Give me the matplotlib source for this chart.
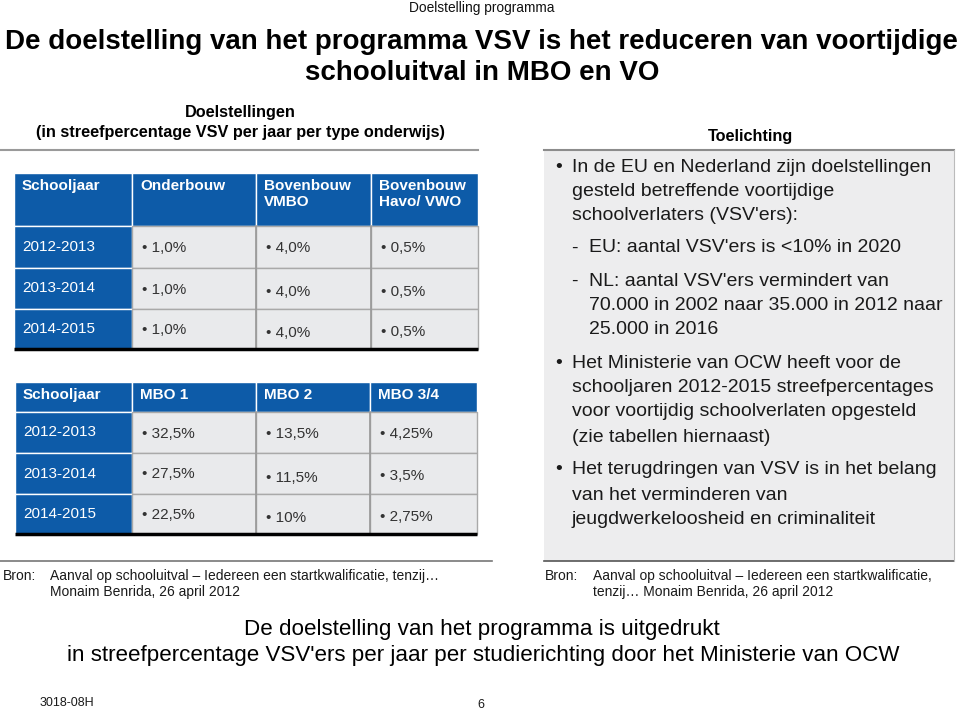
import matplotlib
matplotlib.use("Agg")
import matplotlib.pyplot as plt
from matplotlib import font_manager as fm
from matplotlib.patches import Rectangle

# ---------------- data ----------------
years = ["2012-2013", "2013-2014", "2014-2015"]
vo_headers = ["Schooljaar", "Onderbouw", "Bovenbouw\nVMBO", "Bovenbouw\nHavo/ VWO"]
vo_onderbouw = ["1,0%", "1,0%", "1,0%"]
vo_bovenbouw_vmbo = ["4,0%", "4,0%", "4,0%"]
vo_bovenbouw_havo_vwo = ["0,5%", "0,5%", "0,5%"]
mbo_headers = ["Schooljaar", "MBO 1", "MBO 2", "MBO 3/4"]
mbo_1 = ["32,5%", "27,5%", "22,5%"]
mbo_2 = ["13,5%", "11,5%", "10%"]
mbo_34 = ["4,25%", "3,5%", "2,75%"]

top_label = "Doelstelling programma"
title_lines = ["De doelstelling van het programma VSV is het reduceren van voortijdige",
               "schooluitval in MBO en VO"]
left_heading = ["Doelstellingen", "(in streefpercentage VSV per jaar per type onderwijs)"]
right_heading = "Toelichting"
bottom_lines = ["De doelstelling van het programma is uitgedrukt",
                "in streefpercentage VSV'ers per jaar per studierichting door het Ministerie van OCW"]
source_left = ["Aanval op schooluitval \u2013 Iedereen een startkwalificatie, tenzij\u2026",
               "Monaim Benrida, 26 april 2012"]
source_right = ["Aanval op schooluitval \u2013 Iedereen een startkwalificatie,",
                "tenzij\u2026 Monaim Benrida, 26 april 2012"]
# (kind, text): 'b' bullet start, 'c' bullet continuation, 'd' dash start, 'dc' dash continuation
notes = [
    ("b", "In de EU en Nederland zijn doelstellingen"),
    ("c", "gesteld betreffende voortijdige"),
    ("c", "schoolverlaters (VSV'ers):"),
    ("d", "EU: aantal VSV'ers is <10% in 2020"),
    ("d", "NL: aantal VSV'ers vermindert van"),
    ("dc", "70.000 in 2002 naar 35.000 in 2012 naar"),
    ("dc", "25.000 in 2016"),
    ("b", "Het Ministerie van OCW heeft voor de"),
    ("c", "schooljaren 2012-2015 streefpercentages"),
    ("c", "voor voortijdig schoolverlaten opgesteld"),
    ("c", "(zie tabellen hiernaast)"),
    ("b", "Het terugdringen van VSV is in het belang"),
    ("c", "van het verminderen van"),
    ("c", "jeugdwerkeloosheid en criminaliteit"),
]
note_y = [168, 192, 216, 248, 281, 305, 330, 363, 387, 412, 437, 470, 495, 520]

# ---------------- style ----------------
names = {f.name for f in fm.fontManager.ttflist}
REG = "Liberation Sans" if "Liberation Sans" in names else "DejaVu Sans"
BLUE = "#0D5BA8"
GRAY_CELL = "#E9EAEC"
GRAY_BOX = "#EDEDEE"
TXT = "#1A1A1A"

W, H = 960, 711
fig = plt.figure(figsize=(W / 100, H / 100), dpi=100)
ax = fig.add_axes([0, 0, 1, 1])
ax.set_xlim(0, W)
ax.set_ylim(H, 0)
ax.axis("off")
renderer = fig.canvas.get_renderer()


def fit_size(s, width, weight="normal"):
    t = ax.text(0, 0, s, fontsize=20, family=REG, weight=weight)
    bb = t.get_window_extent(renderer)
    t.remove()
    return 20 * width / bb.width


def txt(x, y, s, size, weight="normal", ha="left", va="center", color=TXT, **kw):
    return ax.text(x, y, s, fontsize=size, family=REG, weight=weight, ha=ha, va=va,
                   color=color, **kw)


# ---------------- header ----------------
s = fit_size(top_label, 145)
txt(482, 8, top_label, s, ha="center", color="#111111")
s = fit_size(title_lines[0], 952, "bold")
txt(481, 42, title_lines[0], s, weight="bold", ha="center", color="#000000")
txt(482, 73, title_lines[1], s, weight="bold", ha="center", color="#000000")

s = fit_size(left_heading[1], 410, "bold")
txt(240, 113, left_heading[0], s, weight="bold", ha="center", color="#000000")
txt(240, 133, left_heading[1], s, weight="bold", ha="center", color="#000000")
txt(751, 137, right_heading, s, weight="bold", ha="center", color="#000000")

# left panel frame lines
ax.plot([0, 478], [150, 150], color="#9A9A9A", lw=1.5)
ax.plot([0, 492], [561, 561], color="#777777", lw=1.2)

# ---------------- tables ----------------
HDR = fit_size("Schooljaar", 78, "bold")
CELL = fit_size("2012-2013", 73)
# small vertical nudges seen in the middle data column
nudge = [[0, 0, 0], [0, 3, 2], [0, 3, 2]]


def draw_table(xe, ye, headers, cols):
    nrow = len(ye) - 1
    ncol = len(xe) - 1
    for r in range(nrow):
        for c in range(ncol):
            blue = (r == 0 or c == 0)
            ax.add_patch(Rectangle((xe[c], ye[r]), xe[c + 1] - xe[c], ye[r + 1] - ye[r],
                                   facecolor=BLUE if blue else GRAY_CELL,
                                   edgecolor="#FFFFFF" if blue else "#A9A9A9", lw=1.0))
    # vertical separators between gray columns drawn a bit stronger
    for c in range(2, ncol):
        ax.plot([xe[c], xe[c]], [ye[1], ye[-1]], color="#9A9A9A", lw=1.2)
    for c, h in enumerate(headers):
        txt(xe[c] + 8, ye[0] + 6, h, HDR, weight="bold", va="top", color="white",
            linespacing=1.15)
    for r, y in enumerate(years):
        yc = (ye[r + 1] + ye[r + 2]) / 2
        txt(xe[0] + 8, yc, y, CELL, color="white")
        for c, col in enumerate(cols):
            txt(xe[c + 1] + 10, yc + 1 + nudge[r][c], "\u2022 " + col[r], CELL,
                color="#333333")
    ax.plot([xe[0], xe[-1]], [ye[-1], ye[-1]], color="black", lw=2.5, solid_capstyle="butt")


draw_table([14, 132, 256, 371, 478], [173, 226, 268, 309, 349], vo_headers,
           [vo_onderbouw, vo_bovenbouw_vmbo, vo_bovenbouw_havo_vwo])
draw_table([15, 132, 256, 370, 477], [382, 412, 453, 494, 534], mbo_headers,
           [mbo_1, mbo_2, mbo_34])

# ---------------- right panel ----------------
ax.add_patch(Rectangle((544, 150), 410, 411, facecolor=GRAY_BOX, edgecolor="none"))
ax.plot([544, 954], [150, 150], color="#8C8C8C", lw=1.5)
ax.plot([544, 954], [561, 561], color="#555555", lw=1.2)
ax.plot([954, 954], [150, 561], color="#BBBBBB", lw=0.8)

NS = fit_size(notes[0][1], 356)
for (kind, line), y in zip(notes, note_y):
    if kind == "b":
        txt(555, y, "\u2022", NS)
        txt(572, y, line, NS)
    elif kind == "c":
        txt(572, y, line, NS)
    elif kind == "d":
        txt(571, y, "-", NS)
        txt(589, y, line, NS)
    else:
        txt(589, y, line, NS)

# ---------------- sources ----------------
SS = fit_size(source_left[0], 388)
txt(3, 576, "Bron:", SS)
txt(50, 576, source_left[0], SS)
txt(50, 592, source_left[1], SS)
txt(545, 576, "Bron:", SS)
txt(593, 576, source_right[0], SS)
txt(593, 592, source_right[1], SS)

# ---------------- bottom text ----------------
BS = fit_size(bottom_lines[1], 827)
txt(482, 630, bottom_lines[0], BS, ha="center", color="#000000")
txt(483, 656, bottom_lines[1], BS, ha="center", color="#000000")

FS = fit_size("3018-08H", 55)
txt(40, 703, "3018-08H", FS)
txt(481, 705, "6", FS, ha="center")

fig.savefig("out.png", dpi=100)
